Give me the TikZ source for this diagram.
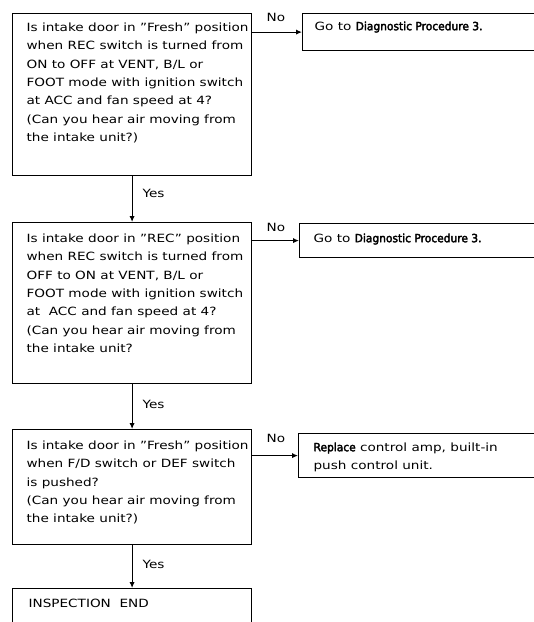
\documentclass[tikz,border=0pt]{standalone}
\usepackage{fontspec}
\setmainfont{DejaVu Sans}[FakeStretch=1.2]
\newfontfamily\narrowbold{DejaVu Sans}[FakeStretch=0.94, FakeBold=3]
\usetikzlibrary{arrows.meta}
\newcommand{\chartfont}{\fontsize{8.5}{13.8}\selectfont}
\newcommand{\hl}[1]{{\narrowbold #1}}

\begin{document}
\begin{tikzpicture}[x=0.75pt, y=-0.75pt, line width=0.9pt,
    box/.style={draw, anchor=north west, inner sep=0pt},
    txt/.style={anchor=north west, align=left, inner sep=0pt, font=\chartfont},
    lbl/.style={anchor=west, inner sep=0pt, font=\chartfont},
    arr/.style={-{Latex[length=4.5pt,width=4pt]}}]
  \useasboundingbox (0,0) rectangle (533,622);

  % Check 1: Fresh position
  \node[box, minimum width=179.25pt, minimum height=121.5pt] (q1) at (12,13) {};
  \node[txt] (t1) at (26,22) {Is intake door in ''Fresh'' position\\
    when REC switch is turned from\\
    ON to OFF at VENT, B/L or\\
    FOOT mode with ignition switch\\
    at ACC and fan speed at 4?\\
    (Can you hear air moving from\\
    the intake unit?)};
  \node[box, minimum width=180pt, minimum height=27.75pt] (r1) at (302,13) {};
  \node[txt] (s1) at (314,21) {Go to \hl{Diagnostic Procedure 3.}};
  \draw[arr] (q1.east |- r1.west) -- (r1.west);
  \node[lbl] (no1) at (266,17) {No};

  % Check 2: REC position
  \node[box, minimum width=179.25pt, minimum height=120.75pt] (q2) at (12,222) {};
  \node[txt] (t2) at (26,233) {Is intake door in ''REC'' position\\
    when REC switch is turned from\\
    OFF to ON at VENT, B/L or\\
    FOOT mode with ignition switch\\
    at \ ACC and fan speed at 4?\\
    (Can you hear air moving from\\
    the intake unit?};
  \node[box, minimum width=183pt, minimum height=25.5pt] (r2) at (299,223) {};
  \node[txt] (s2) at (313,233) {Go to \hl{Diagnostic Procedure 3.}};
  \draw[arr] (q2.east |- r2.west) -- (r2.west);
  \node[lbl] (no2) at (266,227) {No};

  \draw[arr] (q1.south) -- (q2.north);
  \node[lbl] (yes1) at (142,193) {Yes};

  % Check 3: F/D or DEF switch
  \node[box, minimum width=179.25pt, minimum height=86.25pt] (q3) at (12,429) {};
  \node[txt] (t3) at (26,440) {Is intake door in ''Fresh'' position\\
    when F/D switch or DEF switch\\
    is pushed?\\
    (Can you hear air moving from\\
    the intake unit?)};
  \node[box, minimum width=183.75pt, minimum height=33pt] (r3) at (298,433) {};
  \node[txt] (s3) at (313,442) {\hl{Replace} control amp, built-in\\
    push control unit.};
  \draw[arr] (q3.east |- r3.west) -- (r3.west);
  \node[lbl] (no3) at (266,438) {No};

  \draw[arr] (q2.south) -- (q3.north);
  \node[lbl] (yes2) at (142,404) {Yes};

  % End
  \node[box, minimum width=179.25pt, minimum height=45pt] (q4) at (12,588) {};
  \node[txt] (t4) at (28,598) {INSPECTION \ END};

  \draw[arr] (q3.south) -- (q4.north);
  \node[lbl] (yes3) at (142,564) {Yes};
\end{tikzpicture}
\end{document}
